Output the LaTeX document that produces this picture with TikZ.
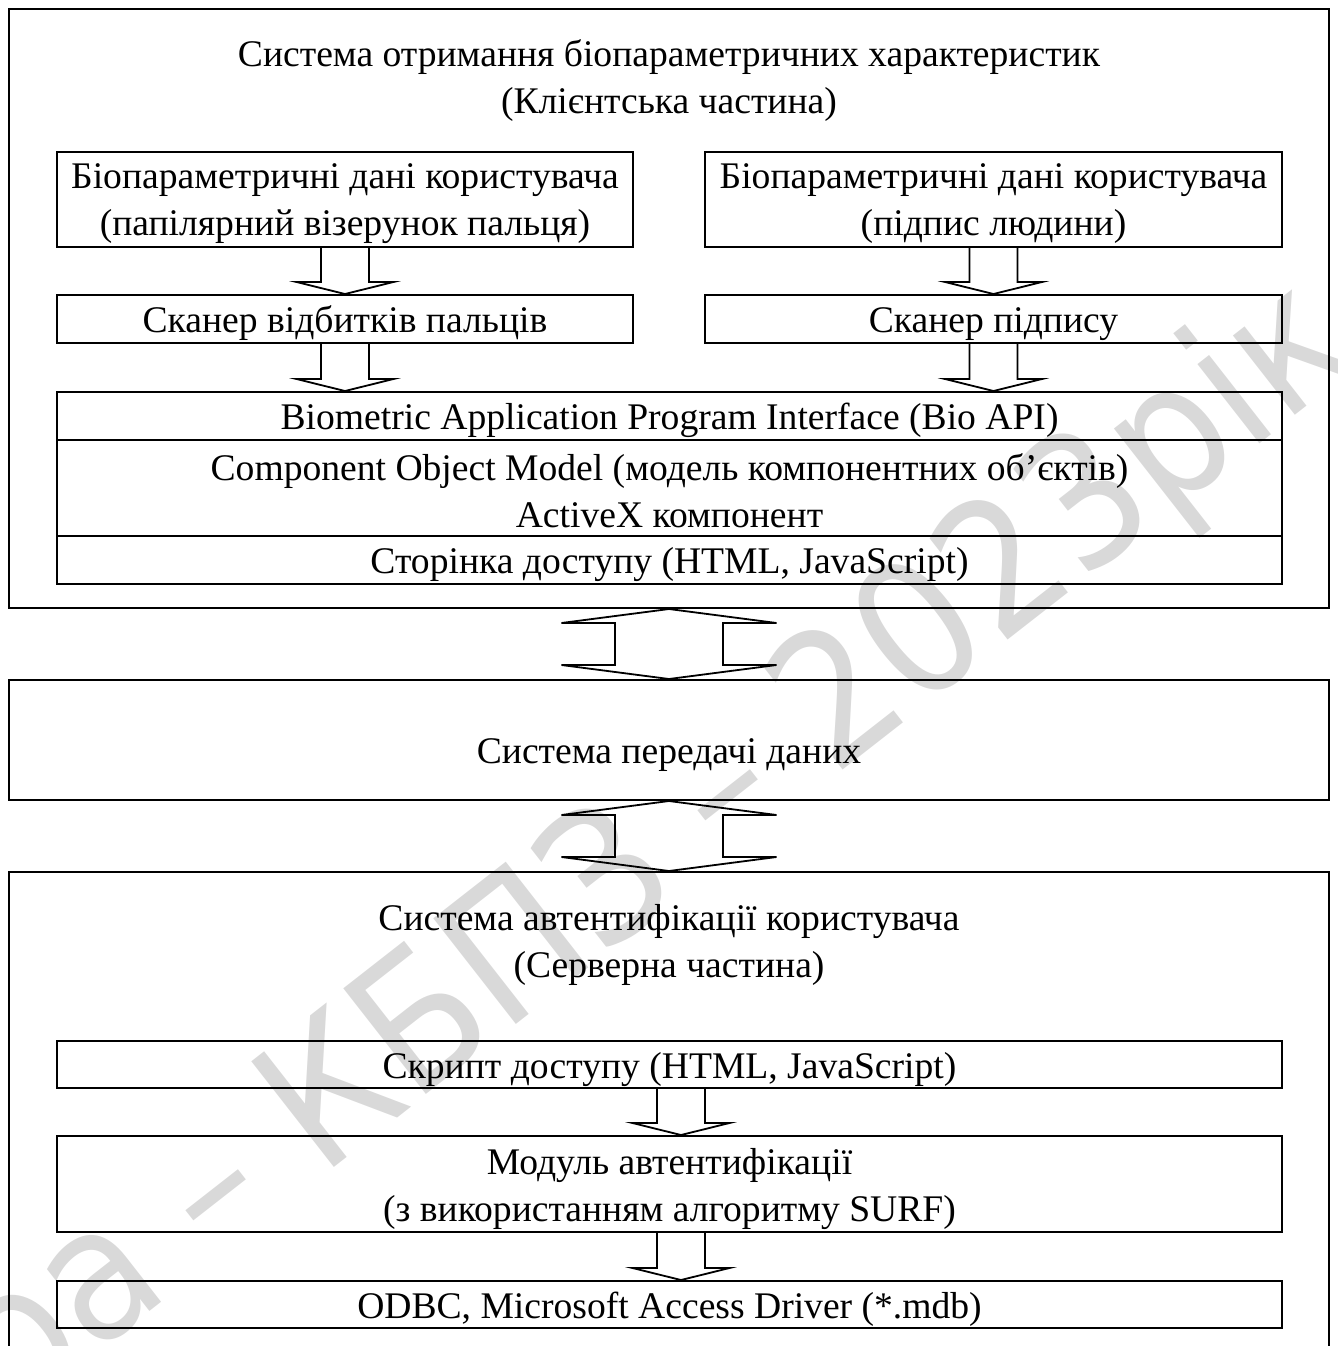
\documentclass[tikz,border=0pt]{standalone}
\usepackage{fontspec}
\setmainfont{Liberation Serif}
\newfontfamily\wmfont{DejaVu Sans Condensed}
\usetikzlibrary{calc}
\tikzset{
  x=0.5pt, y=-0.5pt,
  frame/.style={draw, line width=1pt, inner sep=0pt},
  box/.style={draw, line width=1pt, inner sep=0pt, align=center,
    font=\fontsize{18.8}{23.5}\selectfont},
  one/.style={text height=18.5pt, text depth=5pt},
  label/.style={inner sep=0pt, align=center, font=\fontsize{18.8}{23.5}\selectfont},
  blockarr/.style={draw, line width=0.9pt, line join=miter},
}
% downward block arrow from the bottom of #2 to the top of #3, shifted by #1
\newcommand\blkdown[3][0]{%
  \draw[blockarr] let \p1=($(#2.south)+(#1,0)$), \p2=(#3.north) in
    (\x1-12pt,\y1) -- (\x1-12pt,\y2+6pt) -- (\x1-24.25pt,\y2+6pt) --
    (\x1,\y2) -- (\x1+24.25pt,\y2+6pt) -- (\x1+12pt,\y2+6pt) -- (\x1+12pt,\y1);
}
% two-headed block arrow between the bottom of #1 and the top of #2
\newcommand\blkboth[2]{%
  \draw[blockarr] let \p1=(#1.south), \p2=(#2.north) in
    (\x1,\y1) -- (\x1-53.75pt,\y1-7pt) -- (\x1-27pt,\y1-7pt) --
    (\x1-27pt,\y2+7pt) -- (\x1-53.75pt,\y2+7pt) -- (\x1,\y2) --
    (\x1+53.75pt,\y2+7pt) -- (\x1+27pt,\y2+7pt) -- (\x1+27pt,\y1-7pt) --
    (\x1+53.75pt,\y1-7pt) -- cycle;
}
\begin{document}
\begin{tikzpicture}
\useasboundingbox (0,0) rectangle (1338,1346);
\clip (0,0) rectangle (1338,1346);

% client part
\node[frame, minimum width=660pt, minimum height=299.5pt] (client) at (669,308.5) {};
\node[label] (ctitle) at (669,81) {Система отримання біопараметричних характеристик\\(Клієнтська частина)};
\node[box, minimum width=288pt, minimum height=47.5pt] (bioL) at (345,199.5)
  {\strut Біопараметричні дані користувача\\(папілярний візерунок пальця)};
\node[box, minimum width=288.5pt, minimum height=47.5pt] (bioR) at (993.5,199.5)
  {\strut Біопараметричні дані користувача\\(підпис людини)};
\node[box, one, minimum width=288pt, minimum height=24pt] (scanL) at (345,319) {Сканер відбитків пальців};
\node[box, one, minimum width=288.5pt, minimum height=24pt] (scanR) at (993.5,319) {Сканер підпису};
\node[box, one, minimum width=612.5pt, minimum height=24pt] (bioapi) at (669.5,416)
  {Biometric Application Program Interface (Bio API)};
\node[box, minimum width=612.5pt, minimum height=48pt] (com) at (669.5,488)
  {\strut Component Object Model (модель компонентних об’єктів)\\ActiveX компонент};
\node[box, one, minimum width=612.5pt, minimum height=24pt] (page) at (669.5,560)
  {Сторінка доступу (HTML, JavaScript)};

\blkdown{bioL}{scanL}
\blkdown{bioR}{scanR}
\blkdown{scanL}{bioapi}
\blkdown{scanR}{bioapi}

% data transfer
\node[box, text height=23.5pt, text depth=0pt, minimum width=660pt, minimum height=60pt] (net) at (669,740)
  {Система передачі даних};
\blkboth{client}{net}

% server part
\node[frame, minimum width=660pt, minimum height=264pt] (server) at (669,1136) {};
\node[label] (stitle) at (669,945) {Система автентифікації користувача\\(Серверна частина)};
\blkboth{net}{server}
\node[box, one, minimum width=612.5pt, minimum height=23.5pt] (script) at (669.5,1064.5)
  {Скрипт доступу (HTML, JavaScript)};
\node[box, minimum width=612.5pt, minimum height=48pt] (auth) at (669.5,1184)
  {\rule{0pt}{18.5pt}Модуль автентифікації\\(з використанням алгоритму SURF)};
\node[box, one, minimum width=612.5pt, minimum height=23.5pt] (odbc) at (669.5,1304.5)
  {ODBC, Microsoft Access Driver (*.mdb)};
\blkdown[11.5]{script}{auth}
\blkdown[11.5]{auth}{odbc}

% watermark
\node[text=black, opacity=0.15, rotate=38, anchor=base west,
  font=\wmfont\fontsize{92}{92}\selectfont, inner sep=0pt] (wm) at (10,1420)
  {ра – КБПЗ – 2023рік};
\end{tikzpicture}
\end{document}
